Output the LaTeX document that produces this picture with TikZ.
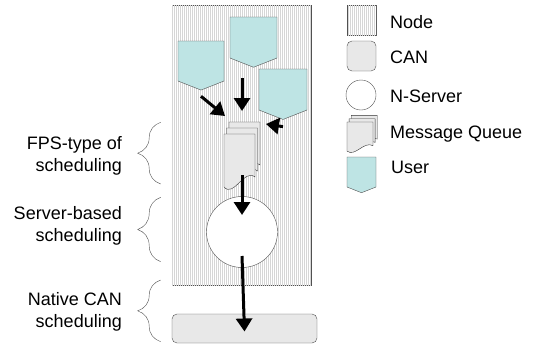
\documentclass[tikz,border=0pt]{standalone}
\usepackage{fontspec}
\setmainfont{Liberation Sans}
\usetikzlibrary{positioning,arrows.meta,shapes.symbols,patterns.meta,decorations.pathreplacing}
\definecolor{userfill}{RGB}{190,228,228}
\definecolor{edge}{RGB}{80,80,80}

% a stack of three message sheets, front sheet top left at the origin
\tikzset{msgq/.pic={
  \foreach \k in {2,1,0}
    \draw[sheet, shift={(2.5*\k,-6*\k)}] (0,0) -- (31,0) -- (31,43) .. controls (20,34) and (10,64) .. (0,53) -- cycle;
  \coordinate (-in1) at (1,-18);
  \coordinate (-in2) at (18,-23);
  \coordinate (-in3) at (42,-10);
  \coordinate (-out) at (18,41);
}}

\begin{document}
\begin{tikzpicture}[x=1pt,y=-1pt,
  font=\fontsize{18}{21.5}\selectfont,
  hatch/.style={draw=edge, fill=white, postaction={pattern={Lines[angle=90,distance=2pt,line width=0.8pt]}, pattern color=black!16}},
  bus/.style={draw=edge, fill=black!9, rounded corners=5pt},
  srv/.style={draw=edge, fill=white, circle, inner sep=0pt},
  usr/.style={draw=edge, fill=userfill, signal, signal to=south, signal pointer angle=137, inner sep=0pt},
  sheet/.style={draw=black!80, fill=black!9},
  arr/.style={line width=3pt, -{Triangle[width=16pt,length=13pt]}},
  brc/.style={draw=edge, decorate, decoration={brace, amplitude=23pt}},
  lbl/.style={align=right, inner sep=0pt, anchor=east},
  key/.style={inner sep=0pt, anchor=base west}]

\useasboundingbox (0,0) rectangle (538,346);

% node, server and bus
\node[hatch, minimum width=139pt, minimum height=280pt] (nd) at (241.5,145) {};
\node[bus, minimum width=145pt, minimum height=29pt] (can) at (244.5,328.5) {};
\node[srv, minimum size=71pt] (srv) at (242,232) {};

% users and queue
\node[usr, minimum width=46pt, minimum height=40pt] (u1) at (201,61) {};
\node[usr, minimum width=47pt, minimum height=41pt] (u2) at (253.5,37.5) {};
\node[usr, minimum width=48pt, minimum height=41pt] (u3) at (283,89.5) {};
\pic (q) at (224,134) {msgq};

\draw[arr] ([yshift=-6pt]u1.south) -- (q-in1);
\draw[arr] ([shift={(-11.5pt,-11pt)}]u2.south) -- (q-in2);
\draw[arr] ([yshift=-7pt]u3.south) -- (q-in3);
\draw[arr] (q-out) -- ([yshift=17pt]srv.center);
\draw[arr] ([yshift=-24pt]srv.center) -- ([yshift=-3pt]can.center);

% scheduling levels
\draw[brc] (160.7,184) -- (160.7,122.3);
\draw[brc] (160.7,261.7) -- (160.7,197.3);
\draw[brc] (160.7,341.7) -- (160.7,280);
\node[lbl] (lfps) at (122,156) {FPS-type of\\scheduling};
\node[lbl] (lsrv) at (122,226) {Server-based\\scheduling};
\node[lbl] (lcan) at (122,312) {Native CAN\\scheduling};

% legend
\node[hatch, minimum width=29pt, minimum height=30pt] (knd) at (361.5,20) {};
\node[bus, minimum width=29pt, minimum height=30pt] (kcan) at (361.5,56) {};
\node[srv, minimum size=30pt] (ksrv) at (361,95) {};
\pic[xscale=.84, yscale=.55] (kq) at (347,122) {msgq};
\node[usr, minimum width=29pt, minimum height=30pt] (ku) at (361.5,172) {};
\node[key] (tnd) at (390,28.3) {Node};
\node[key] (tcan) at (390,63.3) {CAN};
\node[key] (tsrv) at (390,102.7) {N-Server};
\node[key] (tq) at (390,138.3) {Message Queue};
\node[key] (tu) at (391,173.3) {User};
\end{tikzpicture}
\end{document}
